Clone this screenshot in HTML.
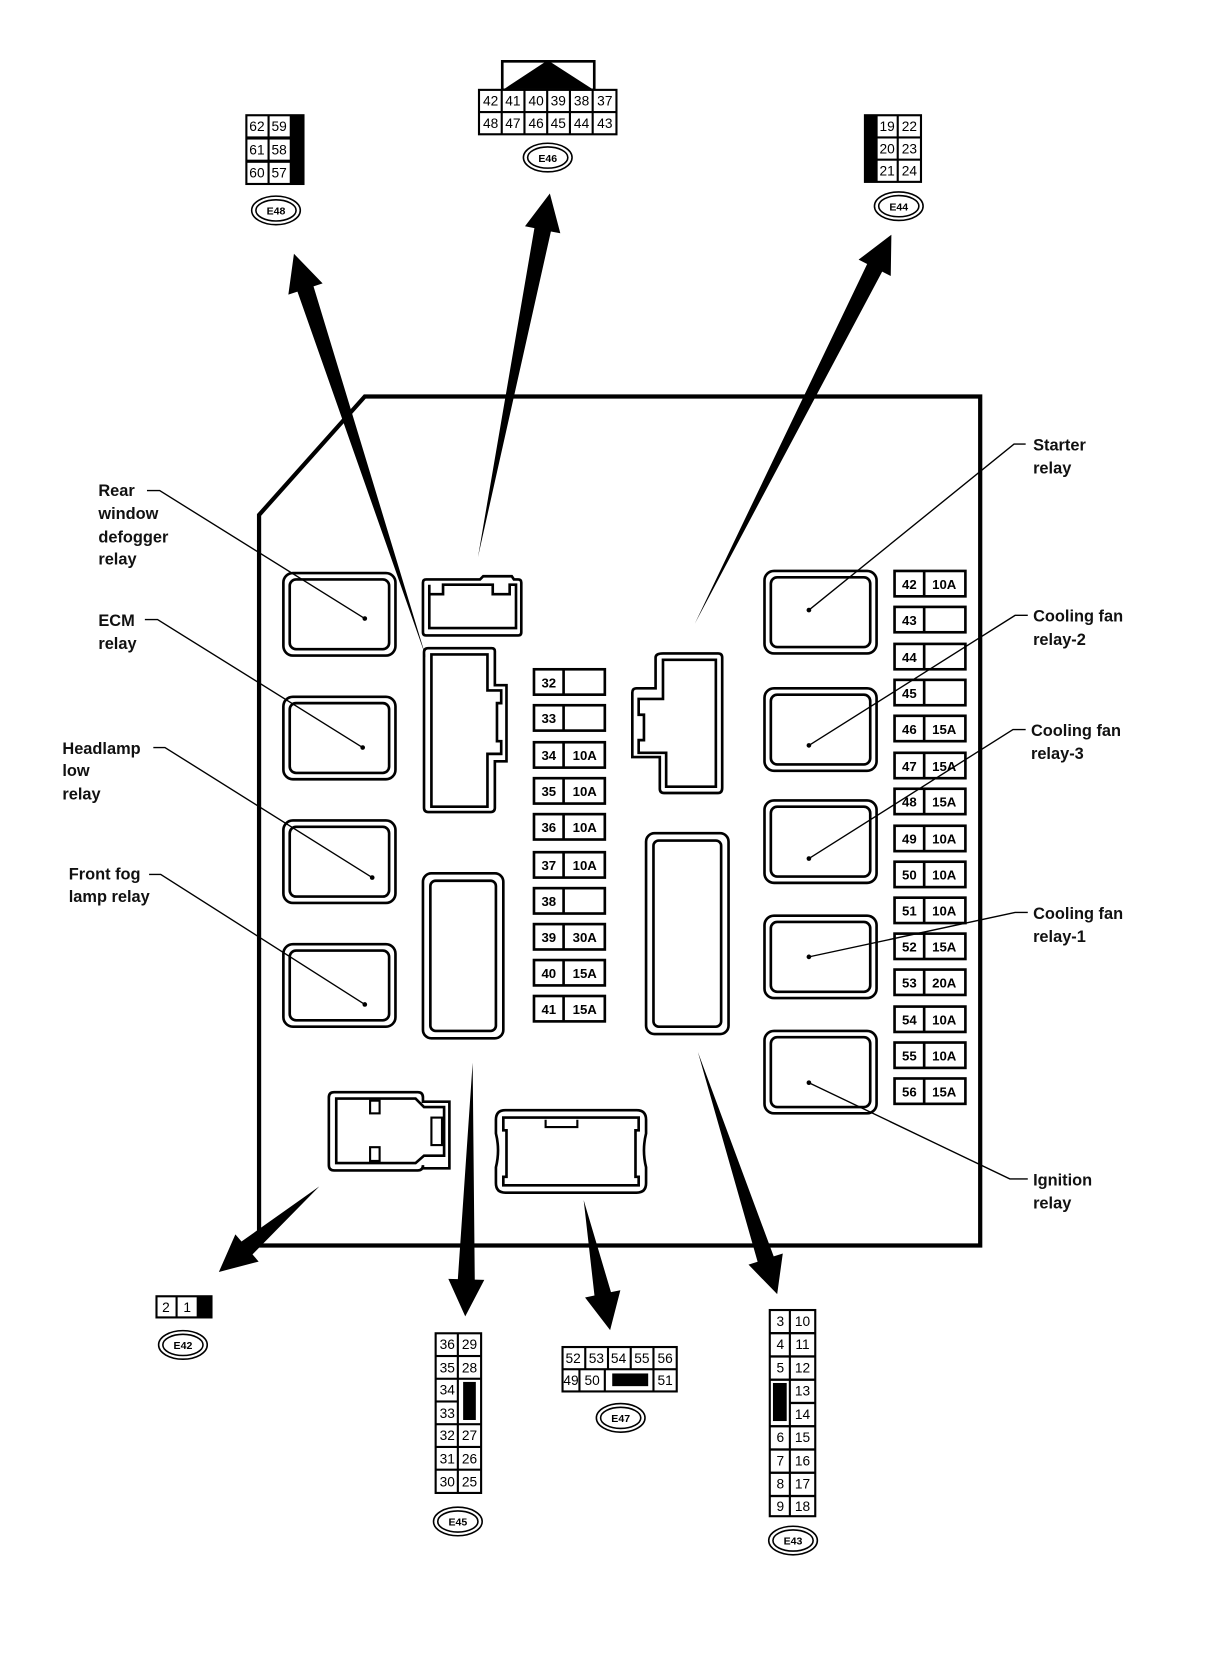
<!DOCTYPE html>
<html><head><meta charset="utf-8"><style>
html,body{margin:0;padding:0;background:#fff;}
svg{display:block;}
.l{font-family:"Liberation Sans",sans-serif;font-size:15.5px;font-weight:bold;fill:#111;}
.c{font-family:"Liberation Sans",sans-serif;font-size:13px;fill:#000;text-anchor:middle;}
.f{font-family:"Liberation Sans",sans-serif;font-size:12.5px;font-weight:bold;fill:#000;text-anchor:middle;}
.b{font-family:"Liberation Sans",sans-serif;font-size:10px;font-weight:bold;fill:#000;text-anchor:middle;}
</style></head><body>
<svg width="1216" height="1660" viewBox="0 0 1150 1570" preserveAspectRatio="none" xmlns="http://www.w3.org/2000/svg">
<defs>
<g id="relay"><rect x="0" y="0" width="106" height="78" rx="9" fill="#fff" stroke="#000" stroke-width="2.5"/><rect x="6" y="6" width="94" height="66" rx="6" fill="none" stroke="#000" stroke-width="2.5"/></g>
<g id="badge"><ellipse cx="0" cy="0" rx="23" ry="13.5" fill="#fff" stroke="#000" stroke-width="1.5"/><ellipse cx="0" cy="0" rx="19" ry="10" fill="none" stroke="#000" stroke-width="1.5"/></g>
<g id="fuse"><rect x="0" y="0" width="67" height="24" fill="#fff" stroke="#000" stroke-width="2.5"/><line x1="28" y1="0" x2="28" y2="24" stroke="#000" stroke-width="2.5"/></g>
</defs>

<!-- main box -->
<path d="M245,487 L345,375 L927,375 L927,1178 L245,1178 Z" fill="none" stroke="#000" stroke-width="4"/>

<!-- left relays -->
<use href="#relay" x="268" y="542"/>
<use href="#relay" x="268" y="659"/>
<use href="#relay" x="268" y="776"/>
<use href="#relay" x="268" y="893"/>
<!-- right relays -->
<use href="#relay" x="723" y="540"/>
<use href="#relay" x="723" y="651"/>
<use href="#relay" x="723" y="757"/>
<use href="#relay" x="723" y="866"/>
<use href="#relay" x="723" y="975"/>

<!-- top connector -->
<path d="M403,548 H454 L457,545 H484 L486,548 H490 Q493,548 493,551 V598 Q493,601 490,601 H403 Q400,601 400,598 V551 Q400,548 403,548 Z" fill="none" stroke="#000" stroke-width="2.5"/>
<path d="M406,553 V594 H488 V553 H482 V562 H466 V553 H419 V562 H406" fill="none" stroke="#000" stroke-width="2.5"/>

<!-- left middle connector -->
<path d="M405,614 H489 Q492,614 492,617 V676 H510 V772 H492 V811 Q492,814 489,814 H405 Q402,814 402,811 V617 Q402,614 405,614Z" fill="none" stroke="#000" stroke-width="0"/>
<path d="M404,673 Q401,673 401,676" fill="none"/>
<path d="M405,613 H465 Q468,613 468,616 V648 H479 V720 H468 V764 Q468,768 464,768 H405 Q401,768 401,764 V617 Q401,613 405,613 Z" fill="none" stroke="#000" stroke-width="2.5"/>
<path d="M408,619 H461 V653 H474 V665 H470 V701 H474 V713 H461 V763 H408 Z" fill="none" stroke="#000" stroke-width="2.5"/>

<!-- right middle connector -->
<path d="M627,618 H679 Q683,618 683,622 V745 Q683,750 679,750 H628 Q624,750 624,746 V716 H598 V655 Q598,651 602,651 H620 V622 Q620,618 627,618 Z" fill="none" stroke="#000" stroke-width="2.5"/>
<path d="M627,624 H677 V744 H630 V712 H604 V700 H609 V676 H604 V661 H627 Z" fill="none" stroke="#000" stroke-width="2.5"/>

<!-- tall rects -->
<rect x="400" y="826" width="76" height="156" rx="8" fill="none" stroke="#000" stroke-width="2.5"/>
<rect x="407" y="833" width="62" height="142" rx="5" fill="none" stroke="#000" stroke-width="2.5"/>
<rect x="611" y="788" width="78" height="190" rx="8" fill="none" stroke="#000" stroke-width="2.5"/>
<rect x="618" y="795" width="64" height="176" rx="5" fill="none" stroke="#000" stroke-width="2.5"/>

<!-- bottom left connector -->
<path d="M316,1033 H395 Q400,1033 400,1038 V1042 H425 V1105 H400 V1102 Q400,1107 395,1107 H316 Q311,1107 311,1102 V1038 Q311,1033 316,1033 Z" fill="none" stroke="#000" stroke-width="2.5"/>
<path d="M318,1039 H393 L401,1047 H420 V1093 H401 L393,1100 H318 Z" fill="none" stroke="#000" stroke-width="2.5"/>
<rect x="350" y="1041" width="9" height="12" fill="none" stroke="#000" stroke-width="2"/>
<rect x="350" y="1085" width="9" height="13" fill="none" stroke="#000" stroke-width="2"/>
<rect x="408" y="1057" width="10" height="26" fill="none" stroke="#000" stroke-width="2"/>

<!-- bottom center connector -->
<path d="M478,1050 H602 Q611,1050 611,1059 V1072 Q607,1088 611,1104 V1119 Q611,1128 602,1128 H478 Q469,1128 469,1119 V1104 Q473,1088 469,1072 V1059 Q469,1050 478,1050 Z" fill="none" stroke="#000" stroke-width="2.5"/>
<path d="M476,1057 H604 V1069 H601 V1113 H604 V1121 H476 V1113 H479 V1069 H476 Z" fill="none" stroke="#000" stroke-width="2.5"/>
<path d="M516,1059 V1066 H546 V1059" fill="none" stroke="#000" stroke-width="2"/>

<!-- fuses center -->
<g>
<use href="#fuse" x="505" y="633"/><text class="f" x="519" y="650">32</text>
<use href="#fuse" x="505" y="667"/><text class="f" x="519" y="684">33</text>
<use href="#fuse" x="505" y="702"/><text class="f" x="519" y="719">34</text><text class="f" x="553" y="719">10A</text>
<use href="#fuse" x="505" y="736"/><text class="f" x="519" y="753">35</text><text class="f" x="553" y="753">10A</text>
<use href="#fuse" x="505" y="770"/><text class="f" x="519" y="787">36</text><text class="f" x="553" y="787">10A</text>
<use href="#fuse" x="505" y="806"/><text class="f" x="519" y="823">37</text><text class="f" x="553" y="823">10A</text>
<use href="#fuse" x="505" y="840"/><text class="f" x="519" y="857">38</text>
<use href="#fuse" x="505" y="874"/><text class="f" x="519" y="891">39</text><text class="f" x="553" y="891">30A</text>
<use href="#fuse" x="505" y="908"/><text class="f" x="519" y="925">40</text><text class="f" x="553" y="925">15A</text>
<use href="#fuse" x="505" y="942"/><text class="f" x="519" y="959">41</text><text class="f" x="553" y="959">15A</text>
</g>
<!-- fuses right -->
<g>
<use href="#fuse" x="846" y="540"/><text class="f" x="860" y="557">42</text><text class="f" x="893" y="557">10A</text>
<use href="#fuse" x="846" y="574"/><text class="f" x="860" y="591">43</text>
<use href="#fuse" x="846" y="609"/><text class="f" x="860" y="626">44</text>
<use href="#fuse" x="846" y="643"/><text class="f" x="860" y="660">45</text>
<use href="#fuse" x="846" y="677"/><text class="f" x="860" y="694">46</text><text class="f" x="893" y="694">15A</text>
<use href="#fuse" x="846" y="712"/><text class="f" x="860" y="729">47</text><text class="f" x="893" y="729">15A</text>
<use href="#fuse" x="846" y="746"/><text class="f" x="860" y="763">48</text><text class="f" x="893" y="763">15A</text>
<use href="#fuse" x="846" y="781"/><text class="f" x="860" y="798">49</text><text class="f" x="893" y="798">10A</text>
<use href="#fuse" x="846" y="815"/><text class="f" x="860" y="832">50</text><text class="f" x="893" y="832">10A</text>
<use href="#fuse" x="846" y="849"/><text class="f" x="860" y="866">51</text><text class="f" x="893" y="866">10A</text>
<use href="#fuse" x="846" y="883"/><text class="f" x="860" y="900">52</text><text class="f" x="893" y="900">15A</text>
<use href="#fuse" x="846" y="917"/><text class="f" x="860" y="934">53</text><text class="f" x="893" y="934">20A</text>
<use href="#fuse" x="846" y="952"/><text class="f" x="860" y="969">54</text><text class="f" x="893" y="969">10A</text>
<use href="#fuse" x="846" y="986"/><text class="f" x="860" y="1003">55</text><text class="f" x="893" y="1003">10A</text>
<use href="#fuse" x="846" y="1020"/><text class="f" x="860" y="1037">56</text><text class="f" x="893" y="1037">15A</text>
</g>

<!-- arrows -->
<g fill="#000">
<polygon points="403,622 296.5,270.8 305.1,268 278,240 272.7,278.6 281.3,275.8"/>
<polygon points="452,527 521,218.9 529.9,220.6 520,183 496.5,214 505.4,215.7"/>
<polygon points="657,590 834.3,256.9 842.4,261 843,222 812,245.6 820.1,249.7"/>
<polygon points="302,1122 228.4,1174.2 222.6,1167.4 207,1203 244.6,1193.2 238.8,1186.4"/>
<polygon points="447,1005 449,1210.2 458,1210.5 440,1245 424,1209.5 433,1209.8"/>
<polygon points="552,1135 577.8,1222.1 586.7,1220.3 577,1258 553.3,1227.1 562.2,1225.3"/>
<polygon points="660,995 731.7,1188.3 740.3,1185.5 735,1224 707.9,1196.1 716.5,1193.3"/>
</g>

<!-- leader lines -->
<g stroke="#000" stroke-width="1.3" fill="none">
<path d="M139,464 H151 L345,585"/>
<path d="M137,586 H149 L343,707"/>
<path d="M145,707 H156 L352,830"/>
<path d="M141,827 H152 L345,950"/>
<path d="M970,420 H959 L765,577"/>
<path d="M972,582 H960 L765,705"/>
<path d="M970,690 H958 L765,812"/>
<path d="M972,863 H960 L765,905"/>
<path d="M972,1115 H955 L765,1024"/>
</g>
<g fill="#000">
<circle cx="345" cy="585" r="2.2"/><circle cx="343" cy="707" r="2.2"/><circle cx="352" cy="830" r="2.2"/><circle cx="345" cy="950" r="2.2"/>
<circle cx="765" cy="577" r="2.2"/><circle cx="765" cy="705" r="2.2"/><circle cx="765" cy="812" r="2.2"/><circle cx="765" cy="905" r="2.2"/><circle cx="765" cy="1024" r="2.2"/>
</g>

<!-- labels -->
<text class="l" x="93" y="469">Rear</text>
<text class="l" x="93" y="491">window</text>
<text class="l" x="93" y="513">defogger</text>
<text class="l" x="93" y="534">relay</text>
<text class="l" x="93" y="592">ECM</text>
<text class="l" x="93" y="614">relay</text>
<text class="l" x="59" y="713">Headlamp</text>
<text class="l" x="59" y="734">low</text>
<text class="l" x="59" y="756">relay</text>
<text class="l" x="65" y="832">Front fog</text>
<text class="l" x="65" y="853">lamp relay</text>
<text class="l" x="977" y="426">Starter</text>
<text class="l" x="977" y="448">relay</text>
<text class="l" x="977" y="588">Cooling fan</text>
<text class="l" x="977" y="610">relay-2</text>
<text class="l" x="975" y="696">Cooling fan</text>
<text class="l" x="975" y="718">relay-3</text>
<text class="l" x="977" y="869">Cooling fan</text>
<text class="l" x="977" y="891">relay-1</text>
<text class="l" x="977" y="1121">Ignition</text>
<text class="l" x="977" y="1143">relay</text>

<!-- E48 -->
<rect x="232" y="108" width="56" height="67" fill="#000"/>
<g fill="#fff"><rect x="234" y="110" width="19" height="19"/><rect x="255" y="110" width="19" height="19"/>
<rect x="234" y="132" width="19" height="19"/><rect x="255" y="132" width="19" height="19"/>
<rect x="234" y="154" width="19" height="19"/><rect x="255" y="154" width="19" height="19"/></g>
<text class="c" x="243" y="124">62</text><text class="c" x="264" y="124">59</text>
<text class="c" x="243" y="146">61</text><text class="c" x="264" y="146">58</text>
<text class="c" x="243" y="168">60</text><text class="c" x="264" y="168">57</text>
<use href="#badge" x="261" y="199"/><text class="b" x="261" y="203">E48</text>

<!-- E46 -->
<rect x="475" y="58" width="87" height="27" fill="#fff" stroke="#000" stroke-width="2.5"/>
<polygon points="518,57 477,84 560,84" fill="#000"/>
<rect x="452" y="84" width="132" height="44" fill="#000"/>
<g fill="#fff">
<rect x="454" y="86" width="19.5" height="19"/><rect x="475.5" y="86" width="19.5" height="19"/><rect x="497" y="86" width="19.5" height="19"/><rect x="518.5" y="86" width="19.5" height="19"/><rect x="540" y="86" width="19.5" height="19"/><rect x="561.5" y="86" width="20.5" height="19"/>
<rect x="454" y="107" width="19.5" height="19"/><rect x="475.5" y="107" width="19.5" height="19"/><rect x="497" y="107" width="19.5" height="19"/><rect x="518.5" y="107" width="19.5" height="19"/><rect x="540" y="107" width="19.5" height="19"/><rect x="561.5" y="107" width="20.5" height="19"/>
</g>
<text class="c" x="464" y="100">42</text><text class="c" x="485" y="100">41</text><text class="c" x="507" y="100">40</text><text class="c" x="528" y="100">39</text><text class="c" x="550" y="100">38</text><text class="c" x="572" y="100">37</text>
<text class="c" x="464" y="121">48</text><text class="c" x="485" y="121">47</text><text class="c" x="507" y="121">46</text><text class="c" x="528" y="121">45</text><text class="c" x="550" y="121">44</text><text class="c" x="572" y="121">43</text>
<use href="#badge" x="518" y="149"/><text class="b" x="518" y="153">E46</text>

<!-- E44 -->
<rect x="817" y="108" width="55" height="65" fill="#000"/>
<g fill="#fff"><rect x="830" y="110" width="18" height="19"/><rect x="850" y="110" width="20" height="19"/>
<rect x="830" y="131" width="18" height="19"/><rect x="850" y="131" width="20" height="19"/>
<rect x="830" y="152" width="18" height="19"/><rect x="850" y="152" width="20" height="19"/></g>
<text class="c" x="839" y="124">19</text><text class="c" x="860" y="124">22</text>
<text class="c" x="839" y="145">20</text><text class="c" x="860" y="145">23</text>
<text class="c" x="839" y="166">21</text><text class="c" x="860" y="166">24</text>
<use href="#badge" x="850" y="195"/><text class="b" x="850" y="199">E44</text>

<!-- E42 -->
<rect x="147" y="1225" width="54" height="22" fill="#000"/>
<g fill="#fff"><rect x="149" y="1227" width="17" height="18"/><rect x="168" y="1227" width="18" height="18"/></g>
<text class="c" x="157" y="1241">2</text><text class="c" x="177" y="1241">1</text>
<use href="#badge" x="173" y="1272"/><text class="b" x="173" y="1276">E42</text>

<!-- E45 -->
<rect x="411" y="1260" width="45" height="153" fill="#000"/>
<g fill="#fff">
<rect x="413" y="1262" width="19" height="19.5"/><rect x="434" y="1262" width="20" height="19.5"/>
<rect x="413" y="1283.5" width="19" height="19.5"/><rect x="434" y="1283.5" width="20" height="19.5"/>
<rect x="413" y="1305" width="19" height="19.5"/><rect x="434" y="1305" width="20" height="41"/>
<rect x="413" y="1326.5" width="19" height="19.5"/>
<rect x="413" y="1348" width="19" height="19.5"/><rect x="434" y="1348" width="20" height="19.5"/>
<rect x="413" y="1369.5" width="19" height="19.5"/><rect x="434" y="1369.5" width="20" height="19.5"/>
<rect x="413" y="1391" width="19" height="20"/><rect x="434" y="1391" width="20" height="20"/>
</g>
<rect x="438" y="1307" width="12" height="36" fill="#000"/>
<text class="c" x="423" y="1276">36</text><text class="c" x="444" y="1276">29</text>
<text class="c" x="423" y="1298">35</text><text class="c" x="444" y="1298">28</text>
<text class="c" x="423" y="1319">34</text>
<text class="c" x="423" y="1341">33</text>
<text class="c" x="423" y="1362">32</text><text class="c" x="444" y="1362">27</text>
<text class="c" x="423" y="1384">31</text><text class="c" x="444" y="1384">26</text>
<text class="c" x="423" y="1406">30</text><text class="c" x="444" y="1406">25</text>
<use href="#badge" x="433" y="1439"/><text class="b" x="433" y="1443">E45</text>

<!-- E47 -->
<rect x="531" y="1273" width="110" height="44" fill="#000"/>
<g fill="#fff">
<rect x="533" y="1275" width="19.5" height="19"/><rect x="554.5" y="1275" width="19.5" height="19"/><rect x="576" y="1275" width="19.5" height="19"/><rect x="597.5" y="1275" width="19.5" height="19"/><rect x="619" y="1275" width="20" height="19"/>
<rect x="533" y="1296" width="14" height="19"/><rect x="549" y="1296" width="22" height="19"/><rect x="573" y="1296" width="44" height="19"/><rect x="619" y="1296" width="20" height="19"/>
</g>
<rect x="579" y="1299" width="34" height="12" fill="#000"/>
<text class="c" x="542" y="1289">52</text><text class="c" x="564" y="1289">53</text><text class="c" x="585" y="1289">54</text><text class="c" x="607" y="1289">55</text><text class="c" x="629" y="1289">56</text>
<text class="c" x="540" y="1310">49</text><text class="c" x="560" y="1310">50</text><text class="c" x="629" y="1310">51</text>
<use href="#badge" x="587" y="1341"/><text class="b" x="587" y="1345">E47</text>

<!-- E43 -->
<rect x="727" y="1238" width="45" height="197" fill="#000"/>
<g fill="#fff">
<rect x="729" y="1240" width="17" height="19.8"/><rect x="748" y="1240" width="22" height="19.8"/>
<rect x="729" y="1262" width="17" height="19.8"/><rect x="748" y="1262" width="22" height="19.8"/>
<rect x="729" y="1284" width="17" height="19.8"/><rect x="748" y="1284" width="22" height="19.8"/>
<rect x="729" y="1306" width="17" height="41.8"/><rect x="748" y="1306" width="22" height="19.8"/>
<rect x="748" y="1328" width="22" height="19.8"/>
<rect x="729" y="1350" width="17" height="19.8"/><rect x="748" y="1350" width="22" height="19.8"/>
<rect x="729" y="1372" width="17" height="19.8"/><rect x="748" y="1372" width="22" height="19.8"/>
<rect x="729" y="1394" width="17" height="19.8"/><rect x="748" y="1394" width="22" height="19.8"/>
<rect x="729" y="1416" width="17" height="17"/><rect x="748" y="1416" width="22" height="17"/>
</g>
<rect x="731" y="1308" width="13" height="36" fill="#000"/>
<text class="c" x="738" y="1254">3</text><text class="c" x="759" y="1254">10</text>
<text class="c" x="738" y="1276">4</text><text class="c" x="759" y="1276">11</text>
<text class="c" x="738" y="1298">5</text><text class="c" x="759" y="1298">12</text>
<text class="c" x="759" y="1320">13</text>
<text class="c" x="759" y="1342">14</text>
<text class="c" x="738" y="1364">6</text><text class="c" x="759" y="1364">15</text>
<text class="c" x="738" y="1386">7</text><text class="c" x="759" y="1386">16</text>
<text class="c" x="738" y="1408">8</text><text class="c" x="759" y="1408">17</text>
<text class="c" x="738" y="1429">9</text><text class="c" x="759" y="1429">18</text>
<use href="#badge" x="750" y="1457"/><text class="b" x="750" y="1461">E43</text>
</svg>
</body></html>
